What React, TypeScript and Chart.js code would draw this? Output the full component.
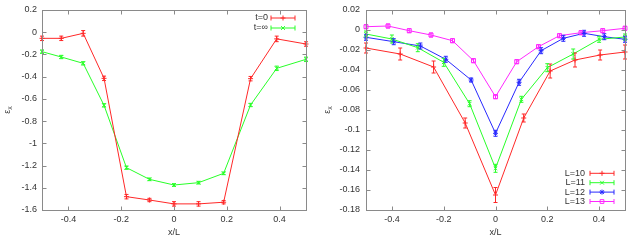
import React, { useEffect, useRef } from 'react';
import { Chart, registerables } from 'chart.js';
Chart.register(...registerables);

const FONT = '"Liberation Sans", Arial, sans-serif';
const TEXT = '#333333';
const FRAME = '#8a8a8a';

// ---------- left panel data ----------
const leftX = [-0.5, -0.427, -0.344, -0.265, -0.18, -0.093, 0, 0.093, 0.188, 0.29, 0.389, 0.5];
const t0Y = [-0.055, -0.055, -0.01, -0.415, -1.48, -1.51, -1.545, -1.545, -1.53, -0.418, -0.06, -0.106];
const t0Err = [0.02, 0.02, 0.025, 0.02, 0.02, 0.015, 0.02, 0.02, 0.015, 0.02, 0.025, 0.02];
const tInfY = [-0.175, -0.223, -0.28, -0.658, -1.219, -1.324, -1.375, -1.354, -1.27, -0.655, -0.325, -0.244];
const tInfErr = [0.015, 0.015, 0.015, 0.015, 0.015, 0.012, 0.012, 0.012, 0.012, 0.015, 0.02, 0.02];
const leftYTicks = [0.2, 0, -0.2, -0.4, -0.6, -0.8, -1, -1.2, -1.4, -1.6];

// ---------- right panel data ----------
const l10X = [-0.5, -0.368, -0.239, -0.117, 0, 0.109, 0.211, 0.307, 0.404, 0.5];
const l10Y = [-0.018, -0.024, -0.037, -0.093, -0.165, -0.088, -0.041, -0.03, -0.025, -0.022];
const l10Err = [0.005, 0.006, 0.006, 0.005, 0.0075, 0.004, 0.007, 0.007, 0.005, 0.007];
const l11X = [-0.5, -0.4, -0.3, -0.2, -0.1, 0, 0.1, 0.2, 0.3, 0.4, 0.5];
const l11Y = [-0.004, -0.009, -0.0177, -0.0323, -0.0737, -0.1383, -0.0693, -0.0377, -0.024, -0.0093, -0.007];
const l11Err = [0.003, 0.004, 0.004, 0.004, 0.003, 0.004, 0.003, 0.004, 0.005, 0.003, 0.003];
const l12X = [-0.5, -0.393, -0.29, -0.192, -0.094, 0, 0.091, 0.176, 0.262, 0.342, 0.42, 0.5];
const l12Y = [-0.0073, -0.0117, -0.016, -0.0293, -0.05, -0.1033, -0.0523, -0.0207, -0.0083, -0.0033, -0.0067, -0.0093];
const l12Err = [0.003, 0.003, 0.003, 0.003, 0.002, 0.003, 0.003, 0.003, 0.003, 0.003, 0.003, 0.003];
const l13X = [-0.5, -0.415, -0.333, -0.249, -0.166, -0.085, 0, 0.082, 0.166, 0.247, 0.33, 0.414, 0.5];
const l13Y = [0.0033, 0.004, -0.0007, -0.005, -0.0107, -0.0307, -0.0667, -0.0317, -0.0167, -0.0057, -0.0027, -0.0007, 0.0017];
const l13Err = [0.002, 0.002, 0.002, 0.002, 0.002, 0.002, 0.002, 0.002, 0.002, 0.002, 0.002, 0.002, 0.002];
const rightYTicks = [0.02, 0, -0.02, -0.04, -0.06, -0.08, -0.1, -0.12, -0.14, -0.16, -0.18];

const xTicks = [-0.4, -0.2, 0, 0.2, 0.4];

const RED = 'rgb(255,40,40)';
const GREEN = 'rgb(40,255,40)';
const BLUE = 'rgb(40,40,255)';
const MAGENTA = 'rgb(255,40,255)';

function fmt(v: number) {
  return String(Number(v.toFixed(4)));
}

function drawMarker(ctx: CanvasRenderingContext2D, style: string, x: number, y: number, r: number) {
  ctx.beginPath();
  if (style === 'cross' || style === 'star') {
    ctx.moveTo(x - r, y); ctx.lineTo(x + r, y);
    ctx.moveTo(x, y - r); ctx.lineTo(x, y + r);
  }
  if (style === 'crossRot' || style === 'star') {
    const d = r * 0.75;
    ctx.moveTo(x - d, y - d); ctx.lineTo(x + d, y + d);
    ctx.moveTo(x - d, y + d); ctx.lineTo(x + d, y - d);
  }
  if (style === 'rect') {
    ctx.rect(x - r * 0.75, y - r * 0.75, r * 1.5, r * 1.5);
  }
  ctx.stroke();
}

type Legend = { textRight: number; x1: number; x2: number; y0: number; dy: number };

function makeDataset(label: string, xs: number[], ys: number[], errs: number[], color: string, style: string) {
  return {
    label,
    data: xs.map((x, i) => ({ x, y: ys[i] })),
    errors: errs,
    borderColor: color,
    backgroundColor: color,
    borderWidth: 1,
    pointStyle: style,
    pointRadius: style === 'rect' ? 2.8 : 2.5,
    pointBorderWidth: 1,
    pointBackgroundColor: 'rgba(0,0,0,0)',
    pointBorderColor: color,
    fill: false,
    tension: 0,
    clip: false,
  };
}

function makeChart(canvas: HTMLCanvasElement, datasets: any[], yMin: number, yMax: number, yTicks: number[], yAxisWidth: number, rightPad: number, labelGap: number, legend: Legend) {
  const plugin = {
    id: 'gnu',
    afterDatasetsDraw(chart: any) {
      const ctx = chart.ctx as CanvasRenderingContext2D;
      const xs = chart.scales.x, ys = chart.scales.y;
      chart.data.datasets.forEach((ds: any) => {
        ctx.save();
        ctx.strokeStyle = ds.borderColor;
        ctx.lineWidth = 1;
        ds.data.forEach((p: any, i: number) => {
          const e = ds.errors[i];
          const x = xs.getPixelForValue(p.x);
          const y1 = ys.getPixelForValue(p.y + e);
          const y2 = ys.getPixelForValue(p.y - e);
          ctx.beginPath();
          ctx.moveTo(x, y1); ctx.lineTo(x, y2);
          ctx.moveTo(x - 2, y1); ctx.lineTo(x + 2, y1);
          ctx.moveTo(x - 2, y2); ctx.lineTo(x + 2, y2);
          ctx.stroke();
        });
        ctx.restore();
      });
    },
    afterDraw(chart: any) {
      const ctx = chart.ctx as CanvasRenderingContext2D;
      const a = chart.chartArea;
      const xs = chart.scales.x, ys = chart.scales.y;
      ctx.save();
      // frame
      ctx.strokeStyle = FRAME;
      ctx.lineWidth = 1;
      const L = Math.round(a.left) + 0.5, R = Math.round(a.right) + 0.5;
      const T = Math.round(a.top) + 0.5, B = Math.round(a.bottom) + 0.5;
      ctx.strokeRect(L, T, R - L, B - T);
      // inward ticks
      ctx.beginPath();
      xTicks.forEach((v) => {
        const x = Math.round(xs.getPixelForValue(v)) + 0.5;
        ctx.moveTo(x, B); ctx.lineTo(x, B - 4);
        ctx.moveTo(x, T); ctx.lineTo(x, T + 4);
      });
      yTicks.forEach((v) => {
        const y = Math.round(ys.getPixelForValue(v)) + 0.5;
        ctx.moveTo(L, y); ctx.lineTo(L + 4, y);
        ctx.moveTo(R, y); ctx.lineTo(R - 4, y);
      });
      ctx.stroke();
      // tick labels
      ctx.fillStyle = TEXT;
      ctx.font = `9px ${FONT}`;
      ctx.textBaseline = 'middle';
      ctx.textAlign = 'right';
      yTicks.forEach((v) => {
        ctx.fillText(fmt(v), a.left - labelGap, ys.getPixelForValue(v));
      });
      ctx.textAlign = 'center';
      xTicks.forEach((v) => {
        ctx.fillText(fmt(v), xs.getPixelForValue(v), 219.5);
      });
      // axis titles
      ctx.fillText('x/L', (a.left + a.right) / 2, 233);
      ctx.save();
      ctx.translate(8, (a.top + a.bottom) / 2);
      ctx.rotate(-Math.PI / 2);
      ctx.font = `9px ${FONT}`;
      const wE = ctx.measureText('ε').width;
      ctx.font = `7px ${FONT}`;
      const wX = ctx.measureText('x').width;
      const start = -(wE + wX) / 2;
      ctx.textAlign = 'left';
      ctx.font = `9px ${FONT}`;
      ctx.fillText('ε', start, 0);
      ctx.font = `7px ${FONT}`;
      ctx.fillText('x', start + wE, 2.5);
      ctx.restore();
      // legend
      ctx.font = `9px ${FONT}`;
      ctx.textAlign = 'right';
      ctx.textBaseline = 'middle';
      chart.data.datasets.forEach((ds: any, i: number) => {
        const y = legend.y0 + i * legend.dy;
        ctx.fillStyle = TEXT;
        ctx.fillText(ds.label, legend.textRight, y);
        ctx.strokeStyle = ds.borderColor;
        ctx.lineWidth = 1;
        ctx.beginPath();
        ctx.moveTo(legend.x1, y); ctx.lineTo(legend.x2, y);
        ctx.moveTo(legend.x1, y - 2.5); ctx.lineTo(legend.x1, y + 2.5);
        ctx.moveTo(legend.x2, y - 2.5); ctx.lineTo(legend.x2, y + 2.5);
        ctx.stroke();
        drawMarker(ctx, ds.pointStyle, (legend.x1 + legend.x2) / 2, y, 2.5);
      });
      ctx.restore();
    },
  };

  return new Chart(canvas, {
    type: 'line',
    data: { datasets },
    options: {
      animation: false,
      responsive: false,
      layout: { padding: { left: 0, top: 10, right: rightPad, bottom: 0 } },
      plugins: { legend: { display: false }, tooltip: { enabled: false } },
      scales: {
        x: {
          type: 'linear',
          min: -0.5,
          max: 0.5,
          afterBuildTicks: (s: any) => { s.ticks = xTicks.map((v) => ({ value: v })); },
          afterFit: (s: any) => { s.height = 31; },
          grid: { display: false },
          border: { display: false },
          ticks: { display: false },
        },
        y: {
          type: 'linear',
          min: yMin,
          max: yMax,
          afterBuildTicks: (s: any) => { s.ticks = yTicks.map((v) => ({ value: v })); },
          afterFit: (s: any) => { s.width = yAxisWidth; },
          grid: { display: false },
          border: { display: false },
          ticks: { display: false },
        },
      },
    } as any,
    plugins: [plugin],
  });
}

export default function App() {
  const leftRef = useRef<HTMLCanvasElement>(null);
  const rightRef = useRef<HTMLCanvasElement>(null);

  useEffect(() => {
    const left = makeChart(
      leftRef.current!,
      [
        makeDataset('t=0', leftX, t0Y, t0Err, RED, 'cross'),
        makeDataset('t=∞', leftX, tInfY, tInfErr, GREEN, 'crossRot'),
      ],
      -1.6, 0.2, leftYTicks, 42, 14, 5,
      { textRight: 268, x1: 271, x2: 295, y0: 18, dy: 10 }
    );
    const right = makeChart(
      rightRef.current!,
      [
        makeDataset('L=10', l10X, l10Y, l10Err, RED, 'cross'),
        makeDataset('L=11', l11X, l11Y, l11Err, GREEN, 'crossRot'),
        makeDataset('L=12', l12X, l12Y, l12Err, BLUE, 'star'),
        makeDataset('L=13', l13X, l13Y, l13Err, MAGENTA, 'rect'),
      ],
      -0.18, 0.02, rightYTicks, 46, 14, 6,
      { textRight: 265, x1: 270, x2: 294, y0: 173.3, dy: 9.4 }
    );
    return () => { left.destroy(); right.destroy(); };
  }, []);

  return (
    <div style={{ position: 'absolute', left: 0, top: 0, width: 639, height: 241, background: '#fff' }}>
      <canvas ref={leftRef} width={320} height={241} style={{ position: 'absolute', left: 0, top: 0, width: 320, height: 241 }} />
      <canvas ref={rightRef} width={319} height={241} style={{ position: 'absolute', left: 320, top: 0, width: 319, height: 241 }} />
    </div>
  );
}
